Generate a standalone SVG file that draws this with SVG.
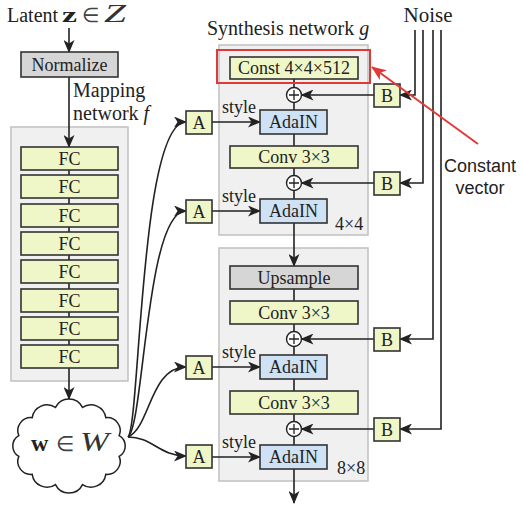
<svg xmlns="http://www.w3.org/2000/svg" width="522" height="512" viewBox="0 0 522 512">
<style>
text{font-family:"Liberation Serif","Times New Roman",serif;font-size:18px;fill:#222}
.t{font-size:20px}
.sans{font-family:"Liberation Sans",Arial,sans-serif}
.c{text-anchor:middle}
.cont{fill:#f0f0f0;stroke:#c0c0c0;stroke-width:1.5}
.y{fill:#eff7c9;stroke:#333;stroke-width:1.6}
.g{fill:#d6d6d6;stroke:#333;stroke-width:1.6}
.b{fill:#cfe2f5;stroke:#333;stroke-width:1.6}
.ln{fill:none;stroke:#222;stroke-width:1.6}
.arr{fill:none;stroke:#222;stroke-width:1.6;marker-end:url(#ah)}
.plus circle{fill:#fff;stroke:#222;stroke-width:1.4}
.plus path{stroke:#222;stroke-width:1.3}
</style>
<defs>
<marker id="ah" markerUnits="userSpaceOnUse" markerWidth="13" markerHeight="11" viewBox="0 0 13 11" refX="12" refY="5.5" orient="auto">
<path d="M0,0 L13,5.5 L0,11 L3.5,5.5 Z" fill="#222"/>
</marker>
<marker id="ahr" markerUnits="userSpaceOnUse" markerWidth="15" markerHeight="12" viewBox="0 0 15 12" refX="14" refY="6" orient="auto">
<path d="M0,0 L15,6 L0,12 L4,6 Z" fill="#e03a36"/>
</marker>
</defs>

<!-- containers -->
<rect class="cont" x="11" y="127" width="117" height="254"/>
<rect class="cont" x="219" y="45" width="149" height="190"/>
<rect class="cont" x="219" y="248" width="149" height="233"/>

<!-- titles -->
<g id="latent-label">
<text class="t" x="7" y="22">Latent</text>
<text x="62" y="22" style="font-size:22px;font-weight:bold" textLength="15" lengthAdjust="spacingAndGlyphs">z</text>
<text x="82" y="22" style="font-size:20px;fill:#444">∈</text>
<text x="104" y="22" style="font-size:25px;font-style:italic;fill:#333" textLength="22" lengthAdjust="spacingAndGlyphs">Z</text>
</g>
<text class="t" x="73" y="97">Mapping</text>
<text class="t" x="73" y="120">network <tspan font-style="italic">f</tspan></text>
<text class="t" x="207" y="35">Synthesis network <tspan font-style="italic">g</tspan></text>
<text x="428" y="22" class="c" style="font-size:21px">Noise</text>
<text x="335" y="230">4×4</text>
<text x="337" y="474">8×8</text>
<text x="222" y="113">style</text>
<text x="222" y="202">style</text>
<text x="222" y="358">style</text>
<text x="222" y="448">style</text>

<!-- connectors -->
<g id="connectors">
<path class="arr" d="M69,28 V52"/>
<path class="arr" d="M69,77 V147"/>
<path class="ln" d="M69,170 V175 M69,198 V204 M69,227 V232 M69,255 V260 M69,283 V289 M69,312 V317 M69,340 V345"/>
<path class="arr" d="M69,368 V399"/>
<path class="arr" d="M128,437 C140,425 140,122 186,122"/>
<path class="arr" d="M128,437 C144,425 146,211 186,211"/>
<path class="arr" d="M128,437 C150,428 150,367 186,367"/>
<path class="arr" d="M128,437 C152,437 160,456 186,456"/>
<path class="arr" d="M212,122 H260"/>
<path class="arr" d="M212,211 H260"/>
<path class="arr" d="M212,367 H260"/>
<path class="arr" d="M212,457 H260"/>
<path class="ln" d="M294,79 V87.5 M294,102.5 V110 M294,134 V146 M294,168 V175.5 M294,190.5 V199"/>
<path class="arr" d="M294,223 V266"/>
<path class="ln" d="M294,289 V301 M294,324 V331.5 M294,346.5 V355 M294,379 V391 M294,414 V421.5 M294,436.5 V445"/>
<path class="arr" d="M294,469 V503"/>
<path class="arr" d="M374,95 H301.5"/>
<path class="arr" d="M374,183 H301.5"/>
<path class="arr" d="M374,339 H301.5"/>
<path class="arr" d="M374,429 H301.5"/>
<path class="arr" d="M415,30 V95 H400"/>
<path class="arr" d="M423,30 V183 H400"/>
<path class="arr" d="M433,30 V339 H400"/>
<path class="arr" d="M441,30 V429 H400"/>
</g>

<!-- mapping network -->
<g id="normalize"><rect class="g" x="21" y="52" width="97" height="25"/><text x="69.5" y="70.5" class="c">Normalize</text></g>
<g id="fc1"><rect class="y" x="21" y="147" width="97" height="23"/><text x="69.5" y="164.5" class="c">FC</text></g>
<g id="fc2"><rect class="y" x="21" y="175" width="97" height="23"/><text x="69.5" y="192.5" class="c">FC</text></g>
<g id="fc3"><rect class="y" x="21" y="204" width="97" height="23"/><text x="69.5" y="221.5" class="c">FC</text></g>
<g id="fc4"><rect class="y" x="21" y="232" width="97" height="23"/><text x="69.5" y="249.5" class="c">FC</text></g>
<g id="fc5"><rect class="y" x="21" y="260" width="97" height="23"/><text x="69.5" y="277.5" class="c">FC</text></g>
<g id="fc6"><rect class="y" x="21" y="289" width="97" height="23"/><text x="69.5" y="306.5" class="c">FC</text></g>
<g id="fc7"><rect class="y" x="21" y="317" width="97" height="23"/><text x="69.5" y="334.5" class="c">FC</text></g>
<g id="fc8"><rect class="y" x="21" y="345" width="97" height="23"/><text x="69.5" y="362.5" class="c">FC</text></g>

<g id="w-cloud">
<path fill="#fff" stroke="#222" stroke-width="1.5" d="M119.2,456.4 A13,13 0 0 1 105.8,474.3 A15,15 0 0 1 82.5,484.6 A15,15 0 0 1 55.5,484.6 A15,15 0 0 1 32.2,474.3 A13,13 0 0 1 18.8,456.4 A12,12 0 0 1 18.8,435.6 A13,13 0 0 1 32.2,417.7 A15,15 0 0 1 55.5,407.4 A15,15 0 0 1 82.5,407.4 A15,15 0 0 1 105.8,417.7 A13,13 0 0 1 119.2,435.6 A12,12 0 0 1 119.2,456.4 Z"/>
<text x="31" y="451" style="font-size:24px;font-weight:bold">w</text>
<text x="56" y="451" style="font-size:21px;fill:#444">∈</text>
<text x="80" y="451" style="font-size:28px;font-style:italic;fill:#333" textLength="29" lengthAdjust="spacingAndGlyphs">W</text>
</g>

<!-- A boxes -->
<g id="a1"><rect class="y" x="186" y="111" width="26" height="23"/><text x="199" y="128.5" class="c">A</text></g>
<g id="a2"><rect class="y" x="186" y="200" width="26" height="23"/><text x="199" y="217.5" class="c">A</text></g>
<g id="a3"><rect class="y" x="186" y="356" width="26" height="23"/><text x="199" y="373.5" class="c">A</text></g>
<g id="a4"><rect class="y" x="186" y="445" width="26" height="23"/><text x="199" y="462.5" class="c">A</text></g>

<!-- B boxes -->
<g id="b1"><rect class="y" x="374" y="84" width="26" height="23"/><text x="387" y="101.5" class="c">B</text></g>
<g id="b2"><rect class="y" x="374" y="172" width="26" height="23"/><text x="387" y="189.5" class="c">B</text></g>
<g id="b3"><rect class="y" x="374" y="328" width="26" height="23"/><text x="387" y="345.5" class="c">B</text></g>
<g id="b4"><rect class="y" x="374" y="418" width="26" height="23"/><text x="387" y="435.5" class="c">B</text></g>

<!-- synthesis 4x4 -->
<g id="const"><rect class="y" x="230" y="57" width="128" height="22"/><text x="294" y="74" class="c">Const 4×4×512</text></g>
<g id="plus1" class="plus"><circle cx="294" cy="95" r="7.5"/><path d="M289,95 H299 M294,90 V100"/></g>
<g id="adain1"><rect class="b" x="260" y="110" width="67" height="24"/><text x="293.5" y="128" class="c">AdaIN</text></g>
<g id="conv1"><rect class="y" x="230" y="146" width="128" height="22"/><text x="294" y="163" class="c">Conv 3×3</text></g>
<g id="plus2" class="plus"><circle cx="294" cy="183" r="7.5"/><path d="M289,183 H299 M294,178 V188"/></g>
<g id="adain2"><rect class="b" x="260" y="199" width="67" height="24"/><text x="293.5" y="217" class="c">AdaIN</text></g>

<!-- synthesis 8x8 -->
<g id="upsample"><rect class="g" x="230" y="266" width="128" height="23"/><text x="294" y="283.5" class="c">Upsample</text></g>
<g id="conv2"><rect class="y" x="230" y="301" width="128" height="23"/><text x="294" y="318.5" class="c">Conv 3×3</text></g>
<g id="plus3" class="plus"><circle cx="294" cy="339" r="7.5"/><path d="M289,339 H299 M294,334 V344"/></g>
<g id="adain3"><rect class="b" x="260" y="355" width="67" height="24"/><text x="293.5" y="373" class="c">AdaIN</text></g>
<g id="conv3"><rect class="y" x="230" y="391" width="128" height="23"/><text x="294" y="408.5" class="c">Conv 3×3</text></g>
<g id="plus4" class="plus"><circle cx="294" cy="429" r="7.5"/><path d="M289,429 H299 M294,424 V434"/></g>
<g id="adain4"><rect class="b" x="260" y="445" width="67" height="24"/><text x="293.5" y="463" class="c">AdaIN</text></g>

<!-- annotation -->
<g id="annotation">
<rect x="217" y="50" width="153" height="33" fill="none" stroke="#e03a36" stroke-width="2"/>
<path d="M478,144 L372,67" fill="none" stroke="#e03a36" stroke-width="2" marker-end="url(#ahr)"/>
<text x="480" y="172" class="sans c">Constant</text>
<text x="480" y="194" class="sans c">vector</text>
</g>
</svg>
